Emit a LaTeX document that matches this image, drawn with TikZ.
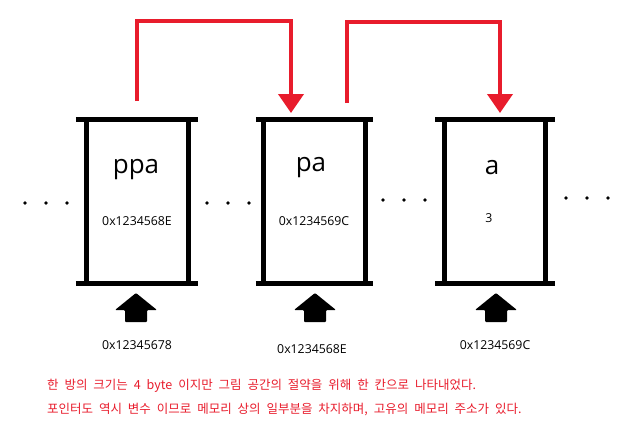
\documentclass[tikz,border=0pt]{standalone}
\usepackage{fontspec}
\setmainfont{Open Sans}
\newfontfamily\krfont{Noto Sans CJK KR}
\newcommand\notefont{\krfont\fontsize{12.5}{15}\selectfont\spaceskip 5.9pt\relax}
\usetikzlibrary{arrows.meta}
\definecolor{ptrred}{RGB}{232,28,44}
\begin{document}
\begin{tikzpicture}[x=1pt,y=-1pt,
    cell/.style ={minimum width=101pt, minimum height=163pt, inner sep=0pt},
    bar/.style ={line width=5pt},
    ptr/.style ={ptrred, line width=4pt, -{Triangle[length=19pt,width=25pt]}},
    varname/.style ={font=\fontsize{26}{30}\selectfont},
    addr/.style ={font=\fontsize{12.3}{14}\selectfont},
    note/.style ={ptrred, anchor=west, inner sep=0pt, font=\notefont}]
   \useasboundingbox (0,0) rectangle (643,442);
   % memory cells
   \node[cell] (ppa) at (137.5,201.5) {};
   \node[cell] (pa)  at (314.5,201.5) {};
   \node[cell] (a)   at (495,201.5)   {};
   \draw[bar] ([xshift=-11pt]ppa.north west) -- ([xshift=10pt]ppa.north east);
   \draw[bar] ([xshift=-11pt]ppa.south west) -- ([xshift=10pt]ppa.south east);
   \draw[bar] (ppa.north west) -- (ppa.south west);
   \draw[bar] (ppa.north east) -- (ppa.south east);
   \draw[bar] ([xshift=-8pt]pa.north west) -- ([xshift=8pt]pa.north east);
   \draw[bar] ([xshift=-8pt]pa.south west) -- ([xshift=8pt]pa.south east);
   \draw[bar] (pa.north west) -- (pa.south west);
   \draw[bar] (pa.north east) -- (pa.south east);
   \draw[bar] ([xshift=-9pt]a.north west) -- ([xshift=9pt]a.north east);
   \draw[bar] ([xshift=-9pt]a.south west) -- ([xshift=9pt]a.south east);
   \draw[bar] (a.north west) -- (a.south west);
   \draw[bar] (a.north east) -- (a.south east);
   % contents
   \node[varname] (nppa) at (136,170) {ppa};
   \node[varname] (npa)  at (311,168) {pa};
   \node[varname] (na)   at (492,168) {a};
   \node[addr] (vppa) at (137,221) {0x1234568E};
   \node[addr] (vpa)  at (314,221) {0x1234569C};
   \node[addr] (va)   at (489,218) {3};
   % dots between cells
   \fill (25,203) circle[radius=1.8pt] (46,203) circle[radius=1.8pt] (67,203) circle[radius=1.8pt];
   \fill (207,203) circle[radius=1.8pt] (228,203) circle[radius=1.8pt] (249,203) circle[radius=1.8pt];
   \fill (383,200) circle[radius=1.8pt] (404,200) circle[radius=1.8pt] (425,200) circle[radius=1.8pt];
   \fill (566,198) circle[radius=1.8pt] (587,198) circle[radius=1.8pt] (608,198) circle[radius=1.8pt];
   % address arrows
   \coordinate (u1) at (136,293);
   \coordinate (u2) at (315,293);
   \coordinate (u3) at (496,293);
   \fill[rounded corners=1pt] (u1) -- ++(21,17) -- ++(-10,0) -- ++(0,12) -- ++(-22,0) -- ++(0,-12) -- ++(-10,0) -- cycle;
   \fill[rounded corners=1pt] (u2) -- ++(21,17) -- ++(-10,0) -- ++(0,12) -- ++(-22,0) -- ++(0,-12) -- ++(-10,0) -- cycle;
   \fill[rounded corners=1pt] (u3) -- ++(21,17) -- ++(-10,0) -- ++(0,12) -- ++(-22,0) -- ++(0,-12) -- ++(-10,0) -- cycle;
   \node[addr] (appa) at (137,345) {0x12345678};
   \node[addr] (apa)  at (312,349) {0x1234568E};
   \node[addr] (aa)   at (495,345) {0x1234569C};
   % pointers
   \coordinate (s1) at (137,101);
   \coordinate (e1) at (291,113);
   \coordinate (s2) at (347,103);
   \coordinate (e2) at (500,113);
   \draw[ptr] (s1) -- ++(0,-80) -| (e1);
   \draw[ptr] (s2) -- ++(0,-81) -| (e2);
   % notes
   \node[note] (n1) at (47,386) {한 방의 크기는 4 byte 이지만 그림 공간의 절약을 위해 한 칸으로 나타내었다.};
   \node[note] (n2) at (47,410) {포인터도 역시 변수 이므로 메모리 상의 일부분을 차지하며, 고유의 메모리 주소가 있다.};
\end{tikzpicture}
\end{document}
